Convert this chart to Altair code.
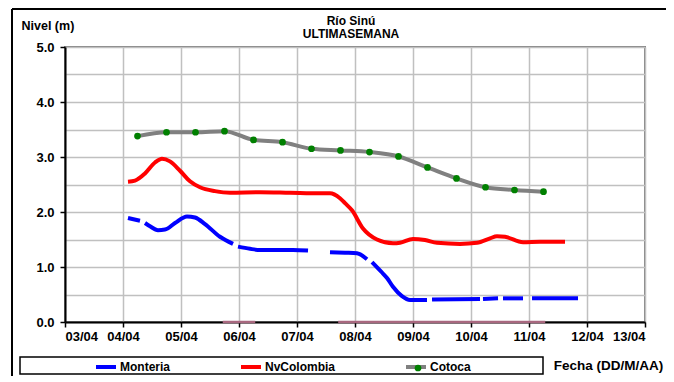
import altair as alt
import pandas as pd

FONT = "Liberation Sans"
YEAR = 2024
BASE = pd.Timestamp(f"{YEAR}-04-03 00:00:00")

# ---- data (time as days after 03/04 00:00, level in metres) ----
monteria_day = [1.086, 1.293,
                1.379, 1.466, 1.603, 1.724, 1.897, 2.103, 2.241, 2.414, 2.672, 2.897,
                2.983, 3.190, 3.362, 3.931, 4.190,
                4.569, 4.828, 5.034, 5.207,
                5.293, 5.466, 5.552, 5.655, 5.810, 5.948, 6.241,
                6.328, 7.155,
                7.207, 7.466,
                7.552, 7.897,
                8.052, 8.845]
monteria_val = [1.89, 1.84,
                1.80, 1.74, 1.67, 1.68, 1.80, 1.92, 1.90, 1.78, 1.55, 1.42,
                1.37, 1.33, 1.31, 1.31, 1.30,
                1.27, 1.26, 1.25, 1.14,
                1.09, 0.90, 0.80, 0.64, 0.47, 0.40, 0.40,
                0.41, 0.42,
                0.42, 0.43,
                0.43, 0.43,
                0.43, 0.43]
monteria_seg = [1, 1] + [2] * 10 + [3] * 5 + [4] * 4 + [5] * 7 + [6, 6, 7, 7, 8, 8, 9, 9]

nvcol_day = [1.086, 1.207, 1.379, 1.552, 1.672, 1.810, 1.983, 2.155, 2.328, 2.586,
             2.845, 3.362, 3.879, 4.397, 4.569, 4.741, 4.828, 4.948, 5.138, 5.379,
             5.655, 5.776, 6.000, 6.207, 6.414, 6.810, 7.103, 7.328, 7.448, 7.586,
             7.897, 8.190, 8.621]
nvcol_val = [2.55, 2.57, 2.70, 2.90, 2.97, 2.92, 2.75, 2.56, 2.45, 2.38,
             2.35, 2.36, 2.35, 2.34, 2.34, 2.25, 2.16, 2.03, 1.70, 1.50,
             1.43, 1.44, 1.51, 1.49, 1.44, 1.42, 1.44, 1.52, 1.56, 1.55,
             1.45, 1.46, 1.46]

cotoca_day = [1.25, 1.75, 2.25, 2.75, 3.25, 3.75, 4.25, 4.75, 5.25, 5.75,
              6.25, 6.75, 7.25, 7.75, 8.25]
cotoca_val = [3.38, 3.45, 3.45, 3.47, 3.31, 3.27, 3.15, 3.12, 3.09, 3.01,
              2.81, 2.61, 2.45, 2.40, 2.37]

zero_day = [2.72, 3.28, 4.71, 8.28]
zero_val = [0.0, 0.0, 0.0, 0.0]
zero_seg = [1, 1, 2, 2]

series_names = ["Monteria", "NvColombia", "Cotoca"]
series_colors = ["#0000ff", "#ff0000", "#808080"]
day_ticks = list(range(3, 14))
title_lines = ["Río Sinú", "ULTIMASEMANA"]


def to_time(days):
    return [BASE + pd.to_timedelta(d, unit="D") for d in days]


lines_df = pd.concat([
    pd.DataFrame({"t": to_time(monteria_day), "v": monteria_val,
                  "series": "Monteria", "seg": [f"M{s}" for s in monteria_seg]}),
    pd.DataFrame({"t": to_time(nvcol_day), "v": nvcol_val,
                  "series": "NvColombia", "seg": "N"}),
    pd.DataFrame({"t": to_time(cotoca_day), "v": cotoca_val,
                  "series": "Cotoca", "seg": "C"}),
], ignore_index=True)
points_df = pd.DataFrame({"t": to_time(cotoca_day), "v": cotoca_val, "pt": "Cotoca"})
zero_df = pd.DataFrame({"t": to_time(zero_day), "v": zero_val, "seg": zero_seg})

x_enc = alt.X(
    "t:T",
    scale=alt.Scale(domain=[alt.DateTime(year=YEAR, month=4, date=3),
                            alt.DateTime(year=YEAR, month=4, date=13)]),
    axis=alt.Axis(
        values=[alt.DateTime(year=YEAR, month=4, date=d) for d in day_ticks],
        format="%d/%m", labelPadding=3,
        title="Fecha (DD/M/AA)", titleX=543, titleY=43, titleAlign="center",
        titleBaseline="middle", titleFontSize=13.5,
    ),
)
y_enc = alt.Y(
    "v:Q",
    scale=alt.Scale(domain=[0, 5], nice=False),
    axis=alt.Axis(
        values=[i * 0.5 for i in range(11)],
        labelExpr="datum.value % 1 == 0 ? format(datum.value, '.1f') : ''",
        tickOpacity={"condition": {"test": "datum.value % 1 != 0", "value": 0}, "value": 1},
        labelPadding=6,
        title="Nivel (m)", titleAngle=0, titleX=-44, titleY=-22, titleAlign="left",
        titleBaseline="middle", titleFontSize=12.5,
    ),
)

one = pd.DataFrame({"a": [0]})

# outer frame (top and left edges only)
frame_top = alt.Chart(one).mark_rule(color="black", strokeWidth=2).encode(
    x=alt.value(-53), x2=alt.value(601), y=alt.value(-38))
frame_left = alt.Chart(one).mark_rule(color="black", strokeWidth=2).encode(
    x=alt.value(-53), y=alt.value(-38), y2=alt.value(329))

legend_box = alt.Chart(one).mark_rect(fill="white", stroke="black", strokeWidth=1.5).encode(
    x=alt.value(-45), x2=alt.value(478), y=alt.value(310), y2=alt.value(327))

title1 = alt.Chart(one).mark_text(font=FONT, fontSize=12, fontWeight="bold", color="black",
                                  align="center", baseline="middle").encode(
    x=alt.value(286), y=alt.value(-26), text=alt.value(title_lines[0]))
title2 = alt.Chart(one).mark_text(font=FONT, fontSize=12, fontWeight="bold", color="black",
                                  align="center", baseline="middle").encode(
    x=alt.value(286), y=alt.value(-13), text=alt.value(title_lines[1]))

zero_line = alt.Chart(zero_df).mark_line(color="#a8687f", strokeWidth=2.5).encode(
    x=x_enc, y=y_enc, detail="seg:N")

lines = alt.Chart(lines_df).mark_line(strokeWidth=4, interpolate="monotone").encode(
    x=x_enc, y=y_enc, detail="seg:N",
    color=alt.Color("series:N",
                    scale=alt.Scale(domain=series_names, range=series_colors),
                    legend=alt.Legend(title=None, orient="none", legendX=29, legendY=308,
                                      direction="horizontal", symbolType="stroke",
                                      symbolSize=400, symbolStrokeWidth=4,
                                      labelExpr="datum.label == 'NvColombia' ? 'NvColombia    ' : datum.label",
                                      labelFont=FONT, labelFontSize=12, labelFontWeight="bold",
                                      labelColor="black", labelOffset=2, columnPadding=62,
                                      padding=0)),
)

points = alt.Chart(points_df).mark_circle(size=45, opacity=1).encode(
    x=x_enc, y=y_enc,
    color=alt.Color("pt:N",
                    scale=alt.Scale(domain=["Cotoca"], range=["#008000"]),
                    legend=alt.Legend(title=None, orient="none", legendX=347, legendY=315,
                                      symbolType="circle", symbolSize=45, symbolOpacity=1,
                                      labelExpr="''",
                                      labelFont=FONT, labelFontSize=12,
                                      padding=0)),
)

chart = alt.layer(frame_top, frame_left, legend_box, title1, title2, zero_line, lines,
                  points).resolve_scale(
    color="independent"
).properties(
    width=580, height=275,
    autosize=alt.AutoSizeParams(type="none"),
    padding={"left": 57, "top": 39, "right": 21, "bottom": 54},
    background="white",
).configure_view(
    stroke="#808080", strokeWidth=2
).configure_axis(
    domainColor="black", domainWidth=2, tickColor="black", tickWidth=1.5, tickSize=5,
    gridColor="#c0c0c0", gridWidth=1.5,
    labelFont=FONT, labelFontSize=13, labelFontWeight="bold", labelColor="black",
    titleFont=FONT, titleFontWeight="bold", titleColor="black",
)

chart.save("out.html", embed_options={"renderer": "svg", "actions": False})
